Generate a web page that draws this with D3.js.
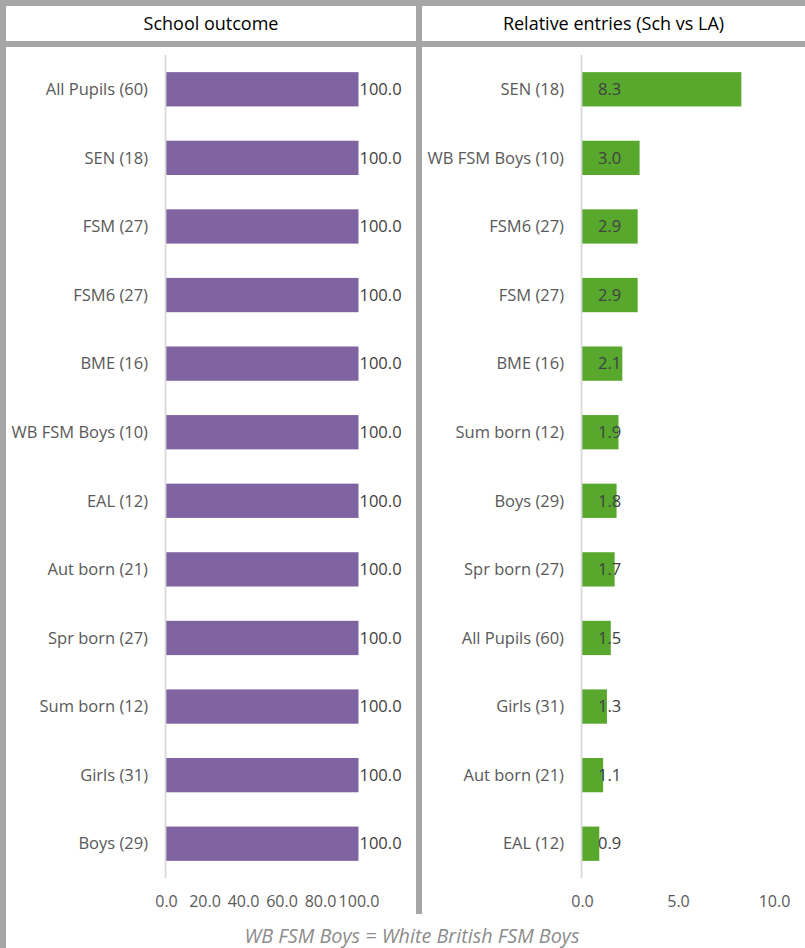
<!DOCTYPE html>
<html><head><meta charset="utf-8">
<script src="https://cdn.jsdelivr.net/npm/d3@7"></script>
<style>body{margin:0;background:#fff}svg{display:block}</style>
</head><body>
<script>
const leftTitle = "School outcome";
const rightTitle = "Relative entries (Sch vs LA)";
const footnote = "WB FSM Boys = White British FSM Boys";
const leftCategories = ["All Pupils (60)","SEN (18)","FSM (27)","FSM6 (27)","BME (16)","WB FSM Boys (10)","EAL (12)","Aut born (21)","Spr born (27)","Sum born (12)","Girls (31)","Boys (29)"];
const leftValues = [100,100,100,100,100,100,100,100,100,100,100,100];
const leftTicks = [0,20,40,60,80,100];
const rightCategories = ["SEN (18)","WB FSM Boys (10)","FSM6 (27)","FSM (27)","BME (16)","Sum born (12)","Boys (29)","Spr born (27)","All Pupils (60)","Girls (31)","Aut born (21)","EAL (12)"];
const rightValues = [8.3,3.0,2.9,2.9,2.1,1.9,1.8,1.7,1.5,1.3,1.1,0.9];
const rightTicks = [0,5,10];

const W = 805, H = 948;
const FONT = "'Open Sans', sans-serif";
const svg = d3.select("body").append("svg").attr("width", W).attr("height", H);
svg.append("rect").attr("width", W).attr("height", H).attr("fill", "#a6a6a6");
svg.append("rect").attr("x",6).attr("y",6).attr("width",410).attr("height",35).attr("fill","#fff");
svg.append("rect").attr("x",422).attr("y",6).attr("width",W-422).attr("height",35).attr("fill","#fff");
svg.append("rect").attr("x",6).attr("y",47).attr("width",410).attr("height",H-47).attr("fill","#fff");
svg.append("rect").attr("x",422).attr("y",47).attr("width",W-422).attr("height",H-47).attr("fill","#fff");
svg.append("rect").attr("x",6).attr("y",914).attr("width",W-6).attr("height",H-914).attr("fill","#fff");

svg.append("text").attr("x",211).attr("y",30).attr("text-anchor","middle")
  .attr("font-family",FONT).attr("font-size",18).attr("fill","#000").text(leftTitle);
svg.append("text").attr("x",613.5).attr("y",30).attr("text-anchor","middle")
  .attr("font-family",FONT).attr("font-size",18).attr("fill","#000").text(rightTitle);
svg.append("text").attr("x",412).attr("y",943).attr("text-anchor","middle")
  .attr("font-family",FONT).attr("font-style","italic").attr("font-size",19.8).attr("fill","#8c8c8c").text(footnote);

function panel(cats, vals, ticks, x0, x1, maxV, color, labelMode) {
  const y = d3.scaleBand().domain(cats).range([55, 878]).paddingInner(0.5).paddingOuter(0.25);
  const x = d3.scaleLinear().domain([0, maxV]).range([x0, x1]);
  const g = svg.append("g");
  g.selectAll("rect.bar").data(vals).join("rect").attr("class","bar")
    .attr("x", x(0)).attr("y", (d,i)=>y(cats[i])).attr("width", d=>x(d)-x(0)).attr("height", y.bandwidth())
    .attr("fill", color);
  g.append("line").attr("x1", x(0)-0.5).attr("x2", x(0)-0.5).attr("y1", 55).attr("y2", 878)
    .attr("stroke","#d9d9d9").attr("stroke-width",1.8);
  g.selectAll("text.cat").data(cats).join("text").attr("class","cat")
    .attr("x", x(0)-18).attr("y", d=>y(d)+y.bandwidth()/2).attr("dy","0.35em")
    .attr("text-anchor","end").attr("font-family",FONT).attr("font-size",16.5).attr("fill","#595959").text(d=>d);
  g.selectAll("text.val").data(vals).join("text").attr("class","val")
    .attr("x", d => labelMode === "outside" ? x(d)+1 : x(0)+16)
    .attr("y", (d,i)=>y(cats[i])+y.bandwidth()/2).attr("dy","0.35em")
    .attr("text-anchor","start").attr("font-family",FONT).attr("font-size",16.5).attr("fill","#404040")
    .text(d=>d3.format(".1f")(d));
  const axis = d3.axisBottom(x).tickValues(ticks).tickFormat(d3.format(".1f")).tickSize(0);
  const ag = g.append("g").attr("transform","translate(0,893)").call(axis);
  ag.select(".domain").remove();
  ag.selectAll("text").attr("font-family",FONT).attr("font-size",16).attr("fill","#595959");
}
panel(leftCategories, leftValues, leftTicks, 166, 358.5, 100, "#8064a2", "outside");
panel(rightCategories, rightValues, rightTicks, 582, 774, 10, "#58a82e", "inside");
</script>
</body></html>
